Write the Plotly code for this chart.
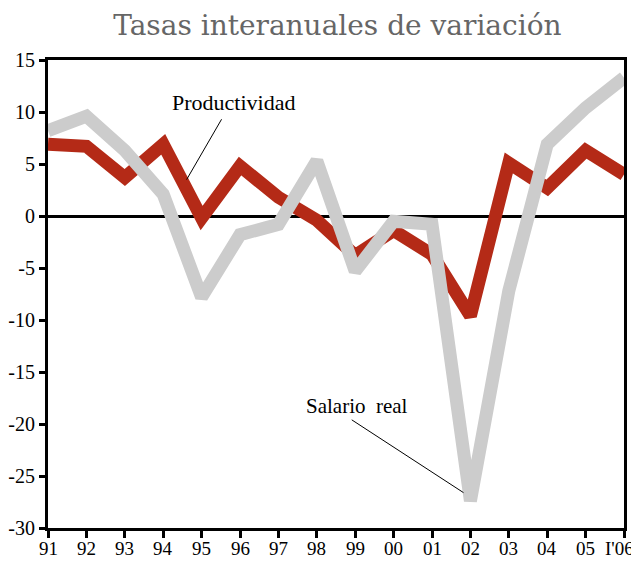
import plotly.graph_objects as go

categories = ["91", "92", "93", "94", "95", "96", "97", "98", "99", "00", "01", "02", "03", "04", "05", "I'06"]
productividad = [6.9, 6.7, 3.7, 6.9, -0.2, 4.8, 1.8, -0.4, -3.8, -1.4, -3.7, -9.6, 5.1, 2.7, 6.3, 4.0]
salario_real = [8.2, 9.6, 6.3, 2.1, -7.8, -1.8, -0.8, 5.3, -5.3, -0.5, -0.8, -27.4, -7.2, 6.9, 10.4, 13.3]
y_ticks = [-30, -25, -20, -15, -10, -5, 0, 5, 10, 15]
y_ticktext = ["-30", "-25", "-20", "-15", "-10", "-5", "0", "5", "10", "15"]

x_idx = list(range(len(categories)))
font_serif = "Liberation Serif"

fig = go.Figure()
fig.add_trace(go.Scatter(x=x_idx, y=productividad, mode="lines", name="Productividad",
                         line=dict(color="#B42A17", width=13), showlegend=False))
fig.add_trace(go.Scatter(x=x_idx, y=salario_real, mode="lines", name="Salario real",
                         line=dict(color="#CCCCCC", width=13), showlegend=False))

fig.update_layout(
    width=631, height=553,
    margin=dict(l=40, r=15, t=52, b=33, autoexpand=False),
    paper_bgcolor="white", plot_bgcolor="white",
    title=dict(text="Tasas interanuales de variación", x=0.522, xanchor="center", y=0.969, yanchor="middle",
               font=dict(family="DejaVu Serif", size=28, color="#666666")),
    font=dict(family=font_serif, size=20, color="black"),
    xaxis=dict(range=[0, 15], tickvals=x_idx, ticktext=categories, showticklabels=False,
               showgrid=False, zeroline=False,
               showline=True, linecolor="black", linewidth=3, mirror=True, automargin=False,
               ticks="outside", ticklen=7, tickwidth=3, tickcolor="black"),
    yaxis=dict(range=[-30, 15], tickvals=y_ticks, ticktext=y_ticktext, showgrid=False, zeroline=True,
               zerolinecolor="black", zerolinewidth=2.5, showline=True, linecolor="black", linewidth=3,
               mirror=True, automargin=False,
               ticks="outside", ticklen=6, tickwidth=3, tickcolor="black",
               tickfont=dict(family=font_serif, size=20)),
)

# x-axis category labels (placed just below the axis ticks)
n = len(categories)
for i, lab in zip(x_idx, categories):
    fig.add_annotation(x=i, y=0, xref="x", yref="paper", yanchor="top", yshift=-8,
                       xshift=(-5 if i == n - 1 else 0),
                       text=lab, showarrow=False, font=dict(family=font_serif, size=19, color="black"))

fig.add_shape(type="line", x0=3.61, y0=3.5, x1=4.52, y1=9.3, line=dict(color="black", width=1))
fig.add_shape(type="line", x0=7.91, y0=-19.6, x1=10.82, y1=-26.6, line=dict(color="black", width=1))
fig.add_annotation(x=4.84, y=10.9, text="Productividad", showarrow=False,
                   font=dict(family=font_serif, size=22, color="black"))
fig.add_annotation(x=8.05, y=-18.3, text="Salario  real", showarrow=False,
                   font=dict(family=font_serif, size=21, color="black"))

fig.write_html("out.html")
